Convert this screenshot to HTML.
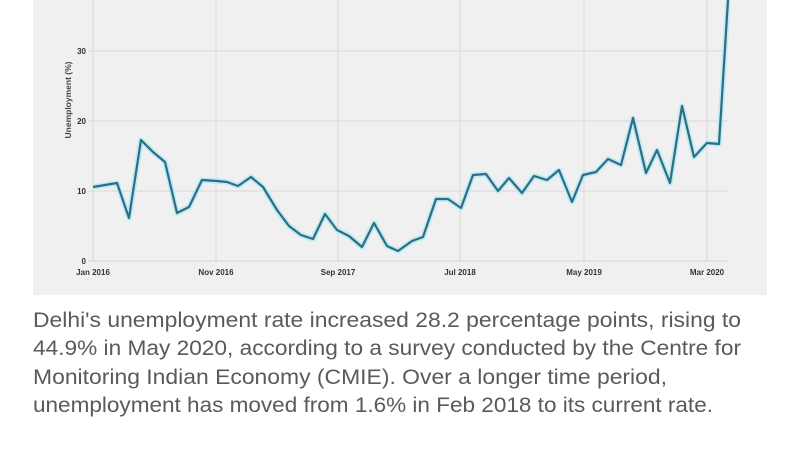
<!DOCTYPE html>
<html><head><meta charset="utf-8"><style>
html,body{margin:0;padding:0;background:#fff;width:800px;height:450px;overflow:hidden}
</style></head><body>
<svg width="800" height="450" xmlns="http://www.w3.org/2000/svg" style="display:block">
<rect x="33" y="0" width="734" height="295" fill="#f0f0f0"/>
<g stroke="#dcdcdc" stroke-width="1.2">
<line x1="88" y1="261" x2="728" y2="261"/>
<line x1="88" y1="191" x2="728" y2="191"/>
<line x1="88" y1="121" x2="728" y2="121"/>
<line x1="88" y1="51" x2="728" y2="51"/>
<line x1="93" y1="0" x2="93" y2="262"/>
<line x1="216" y1="0" x2="216" y2="262"/>
<line x1="338" y1="0" x2="338" y2="262"/>
<line x1="460" y1="0" x2="460" y2="262"/>
<line x1="584" y1="0" x2="584" y2="262"/>
<line x1="707" y1="0" x2="707" y2="262"/>
</g>
<g font-family="Liberation Sans, sans-serif" font-size="8" font-weight="bold" fill="#333">
<text x="86" y="264" text-anchor="end">0</text>
<text x="86" y="194" text-anchor="end">10</text>
<text x="86" y="124" text-anchor="end">20</text>
<text x="86" y="54" text-anchor="end">30</text>
<text x="93" y="275" text-anchor="middle">Jan 2016</text>
<text x="216" y="275" text-anchor="middle">Nov 2016</text>
<text x="338" y="275" text-anchor="middle">Sep 2017</text>
<text x="460" y="275" text-anchor="middle">Jul 2018</text>
<text x="584" y="275" text-anchor="middle">May 2019</text>
<text x="707" y="275" text-anchor="middle">Mar 2020</text>
<text transform="translate(71,100) rotate(-90)" text-anchor="middle" font-size="8.5" fill="#444">Unemployment (%)</text>
</g>
<g fill="none" stroke-linejoin="round">
<polyline stroke="#bdeaf5" stroke-width="5.5" points="93,187 117,183 129,218 141,140 153,152 165,162 177,213 189,207 202,180 217,181 227,182 238,186 251,177 263,187 277,210 289,226 301,235 313,239 325,214 337,230 349,236 362,247 374,223 387,246 398,251 412,241 423,237 436,199 448,199 461,208 473,175 486,174 498,191 509,178 522,193 534,176 547,180 559,170 572,202 583,175 596,172 608,159 621,165 633,118 646,173 657,150 670,183 682,106 694,157 707,143 719,144 728,0"/>
<polyline stroke="#2e6d82" stroke-width="2.2" points="93,187 117,183 129,218 141,140 153,152 165,162 177,213 189,207 202,180 217,181 227,182 238,186 251,177 263,187 277,210 289,226 301,235 313,239 325,214 337,230 349,236 362,247 374,223 387,246 398,251 412,241 423,237 436,199 448,199 461,208 473,175 486,174 498,191 509,178 522,193 534,176 547,180 559,170 572,202 583,175 596,172 608,159 621,165 633,118 646,173 657,150 670,183 682,106 694,157 707,143 719,144 728,0"/>
</g>
<g font-family="Liberation Sans, sans-serif" font-size="21" fill="#5a5a5a">
<text x="33" y="327" textLength="708" lengthAdjust="spacingAndGlyphs">Delhi's unemployment rate increased 28.2 percentage points, rising to</text>
<text x="33" y="355" textLength="708" lengthAdjust="spacingAndGlyphs">44.9% in May 2020, according to a survey conducted by the Centre for</text>
<text x="33" y="384" textLength="634" lengthAdjust="spacingAndGlyphs">Monitoring Indian Economy (CMIE). Over a longer time period,</text>
<text x="33" y="412" textLength="680" lengthAdjust="spacingAndGlyphs">unemployment has moved from 1.6% in Feb 2018 to its current rate.</text>
</g>
</svg>
</body></html>
